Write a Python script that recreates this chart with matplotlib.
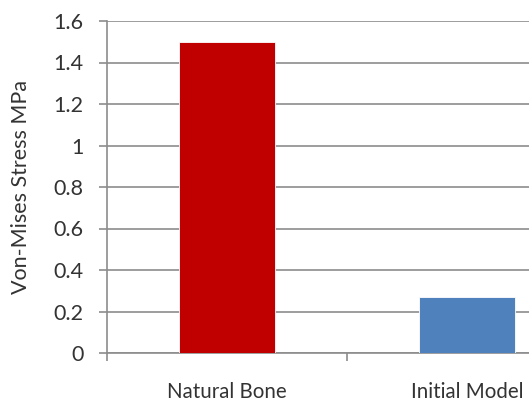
import numpy as np
import matplotlib.pyplot as plt

categories = ['Natural Bone', 'Initial Model']
stress = [1.50, 0.27]
colors = ['#C00000', '#4F81BD']
y_ticks = [0, 0.2, 0.4, 0.6, 0.8, 1, 1.2, 1.4, 1.6]

plt.rcParams['font.family'] = ['Lato', 'DejaVu Sans']

fig = plt.figure(figsize=(5.29, 4.05), dpi=100)
W, H = 529, 405
# plot area runs off the right edge, like the cropped original
ax = fig.add_axes([107 / W, (H - 353) / H, 480 / W, 332 / H])

x = np.arange(len(categories))
ax.bar(x, stress, width=0.4, color=colors, edgecolor='white', linewidth=0.6, zorder=3)

ax.set_xlim(-0.5, 1.5)
ax.set_ylim(0, 1.6)
ax.set_yticks(y_ticks)
ax.set_yticklabels(['0', '0.2', '0.4', '0.6', '0.8', '1', '1.2', '1.4', '1.6'])
ax.grid(axis='y', color='#8c8c8c', linewidth=1.2, zorder=0)

ax.set_xticks(x)
ax.set_xticklabels(categories)
ax.set_xticks([-0.5, 0.5, 1.5], minor=True)
ax.tick_params(axis='x', which='major', length=0, pad=21, labelsize=14.8, colors='#333333')
ax.tick_params(axis='x', which='minor', length=6, width=1.2, color='#8c8c8c')
ax.tick_params(axis='y', length=6, width=1.2, color='#8c8c8c', pad=11, labelsize=15.5, labelcolor='#333333')

for s in ['top', 'right']:
    ax.spines[s].set_visible(False)
ax.spines['left'].set_color('#8c8c8c')
ax.spines['left'].set_linewidth(1.2)
ax.spines['bottom'].set_color('#8c8c8c')
ax.spines['bottom'].set_linewidth(1.2)

ax.set_ylabel('Von-Mises Stress MPa', fontsize=15.5, color='#333333', labelpad=16)

fig.savefig('out.png', dpi=100)
